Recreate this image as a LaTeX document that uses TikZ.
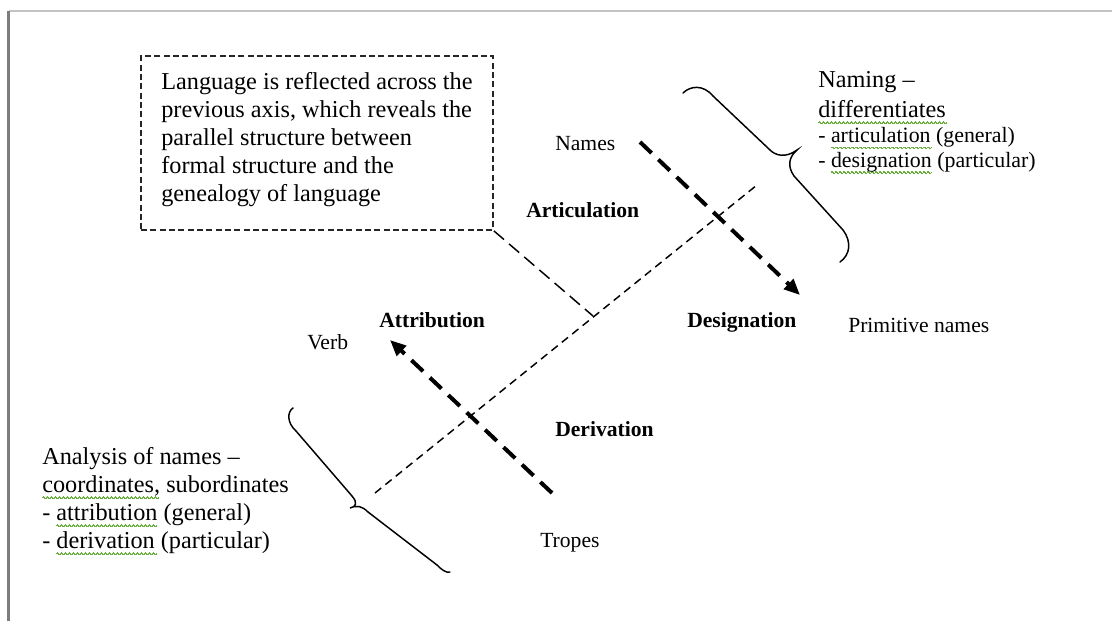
\documentclass[tikz,border=0pt]{standalone}
\usepackage{fontspec}
\setmainfont{Liberation Serif}
\usepackage{tikz}
\usetikzlibrary{arrows.meta}

\definecolor{framegrey}{RGB}{125,125,125}
\definecolor{rulegrey}{RGB}{195,195,195}
\definecolor{spellgreen}{RGB}{105,175,60}

\newcommand{\notefont}{\fontsize{18.2}{21}\selectfont}
\newcommand{\namingfont}{\fontsize{18.2}{22.5}\selectfont}
\newcommand{\listfont}{\fontsize{16.4}{18.6}\selectfont}
\newcommand{\labelfont}{\fontsize{16.2}{19}\selectfont}
% green spell-check wave under a word
\newcommand{\spellwave}[1]{\setbox0=\hbox{#1}%
    \leavevmode\rlap{\unitlength=1pt\linethickness{0.6pt}\color{spellgreen}%
        \begin{picture}(0,0)(0,4)\multiput(0,0)(3,0){\numexpr\wd0/196608\relax}{\qbezier(0,0)(0.75,1.2)(1.5,0)\qbezier(1.5,0)(2.25,-1.2)(3,0)}\end{picture}}%
    \box0\relax}

\tikzset{
    notebox/.style={draw=black!85, line width=1.4pt, dash pattern=on 4.5pt off 2.5pt,
        anchor=north west, align=left, inner xsep=15pt, inner ysep=0pt,
        minimum width=264pt, minimum height=130.5pt, font=\notefont},
    notetext/.style={anchor=north west, inner sep=0pt, align=left, font=\notefont},
    labeltext/.style={anchor=base west, inner sep=0pt, font=\labelfont},
    boldlabel/.style={labeltext, font=\labelfont\bfseries},
    thickarrow/.style={line width=3pt, dash pattern=on 12pt off 7pt,
        -{Triangle[length=12pt,width=10pt]}},
    axisline/.style={line width=1.1pt, dash pattern=on 6pt off 4pt},
    tailline/.style={line width=1.1pt, dash pattern=on 10pt off 5pt},
    bracestroke/.style={line width=1.1pt, line cap=round}
}

\begin{document}
\begin{tikzpicture}[x=0.75pt,y=0.75pt,yscale=-1,xscale=1]
        \useasboundingbox (0,0) rectangle (1112,621);

        % page frame
        \draw [rulegrey, line width=1.2pt] (8.5,11) -- (1112,11) ;
        \draw [framegrey, line width=2.2pt] (8.5,11) -- (8.5,621) ;

        % Note box
        \node [notebox] (note) at (140,55) {Language is reflected across the\\
            previous axis, which reveals the\\
            parallel structure between\\
            formal structure and the\\
            genealogy of language\rule[-9.4pt]{0pt}{1pt}};

        % Side notes
        \node [notetext, font=\namingfont] (naming) at (818,71) {Naming –\\
            \spellwave{differentiates}};
        \node [notetext, font=\listfont] (naminglist) at (818,127) {- \spellwave{articulation} (general)\\
            - \spellwave{designation} (particular)};
        \node [notetext] (analysis) at (42,447) {Analysis of names –\\
            \spellwave{coordinates,} subordinates\\
            - \spellwave{attribution} (general)\\
            - \spellwave{derivation} (particular)};

        % Labels
        \node [labeltext] (names) at (555,150) {Names};
        \node [labeltext] (primitive) at (848,332) {Primitive names};
        \node [labeltext] (verb) at (307,349) {Verb};
        \node [labeltext] (tropes) at (540,547) {Tropes};
        \node [boldlabel] (articulation) at (526,217) {Articulation};
        \node [boldlabel] (attribution) at (379,327) {Attribution};
        \node [boldlabel] (derivation) at (555,436) {Derivation};
        \node [boldlabel] (designation) at (687,327) {Designation};

        % Axis and arrows
        \coordinate (axisLow) at (375,493);
        \coordinate (axisHigh) at (757,185);
        \coordinate (axisFoot) at (593,316);
        \coordinate (namesTail) at (640,142);
        \coordinate (namesTip) at (800,295);
        \coordinate (tropesTail) at (552,493);
        \coordinate (verbTip) at (390,340);

        \draw [axisline] (axisLow) -- (axisHigh) ;
        \draw [tailline] (note.south east) -- (axisFoot) ;
        \draw [thickarrow] (namesTail) -- (namesTip) ;
        \draw [thickarrow] (tropesTail) -- (verbTip) ;

        % Braces
        \draw [bracestroke] (683,93) .. controls (690,86) and (703,84) .. (713,96) -- (770,150) .. controls (776,156) and (786,158) .. (797,150) .. controls (789,157) and (787,166) .. (794,176) -- (843,230) .. controls (852,242) and (850,255) .. (840,262) ;
        \draw [bracestroke] (293,408) .. controls (287,412) and (287,423) .. (296,431) -- (352,496) .. controls (358,503) and (356,507) .. (350,508) .. controls (357,505) and (362,506) .. (368,512) -- (437,565) .. controls (442,570) and (446,573) .. (450,572) ;

\end{tikzpicture}
\end{document}
